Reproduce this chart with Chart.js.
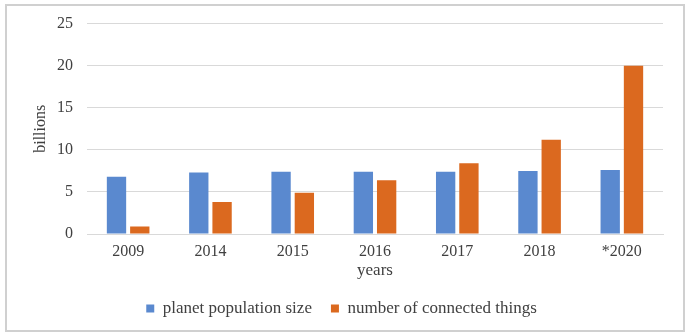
<!DOCTYPE html>
<html>
<head>
<meta charset="utf-8">
<script src="https://cdn.jsdelivr.net/npm/chart.js@4"></script>
<style>
html,body{margin:0;padding:0;background:#fff;}
#wrap{position:absolute;left:0;top:0;width:692px;height:336px;}
</style>
</head>
<body>
<div id="wrap"><canvas id="c" width="692" height="336"></canvas></div>
<script>
const categories = ['2009', '2014', '2015', '2016', '2017', '2018', '*2020'];
const populationValues = [6.8, 7.3, 7.4, 7.4, 7.4, 7.5, 7.6];
const connectedValues = [0.9, 3.8, 4.9, 6.4, 8.4, 11.2, 20];
const yTicks = [0, 5, 10, 15, 20, 25];
const seriesNames = ['planet population size', 'number of connected things'];

const FONT = "'Liberation Serif', 'Times New Roman', serif";

const borderPlugin = {
  id: 'frame',
  beforeDraw(chart) {
    const ctx = chart.ctx;
    ctx.save();
    ctx.fillStyle = '#ffffff';
    ctx.fillRect(0, 0, chart.width, chart.height);
    ctx.strokeStyle = '#d0d0d0';
    ctx.lineWidth = 2;
    ctx.strokeRect(6, 5, 678, 326);
    ctx.restore();
  }
};

new Chart(document.getElementById('c'), {
  type: 'bar',
  data: {
    labels: categories,
    datasets: [
      { label: seriesNames[0], data: populationValues, backgroundColor: '#5a89cf', borderWidth: 0 },
      { label: seriesNames[1], data: connectedValues, backgroundColor: '#db691f', borderWidth: 0 }
    ]
  },
  options: {
    responsive: false,
    animation: false,
    devicePixelRatio: 1,
    layout: { padding: { left: 20, right: 29, top: 21, bottom: 9 } },
    datasets: { bar: { categoryPercentage: 0.566, barPercentage: 0.83 } },
    plugins: {
      legend: {
        position: 'bottom',
        labels: {
          font: { family: FONT, size: 17 },
          color: '#404040',
          boxWidth: 8,
          boxHeight: 8,
          padding: 19
        }
      },
      tooltip: { enabled: false }
    },
    scales: {
      x: {
        grid: { display: false, drawTicks: false },
        border: { display: true, color: '#d9d9d9' },
        ticks: { font: { family: FONT, size: 16 }, color: '#404040', padding: 8 },
        title: { display: true, text: 'years', font: { family: FONT, size: 17 }, color: '#404040', padding: { top: 0, bottom: 0 } },
        afterFit(scale) { scale.height = 47; }
      },
      y: {
        min: 0, max: 25,
        afterBuildTicks(scale) { scale.ticks = yTicks.map(v => ({ value: v })); },
        grid: { color: '#d9d9d9', drawTicks: false },
        border: { display: false },
        ticks: { font: { family: FONT, size: 16 }, color: '#404040', padding: 14 },
        title: { display: true, text: 'billions', font: { family: FONT, size: 16 }, color: '#404040', padding: { top: 11, bottom: 0 } },
        afterFit(scale) { scale.width = 67; }
      }
    }
  },
  plugins: [borderPlugin]
});
</script>
</body>
</html>
